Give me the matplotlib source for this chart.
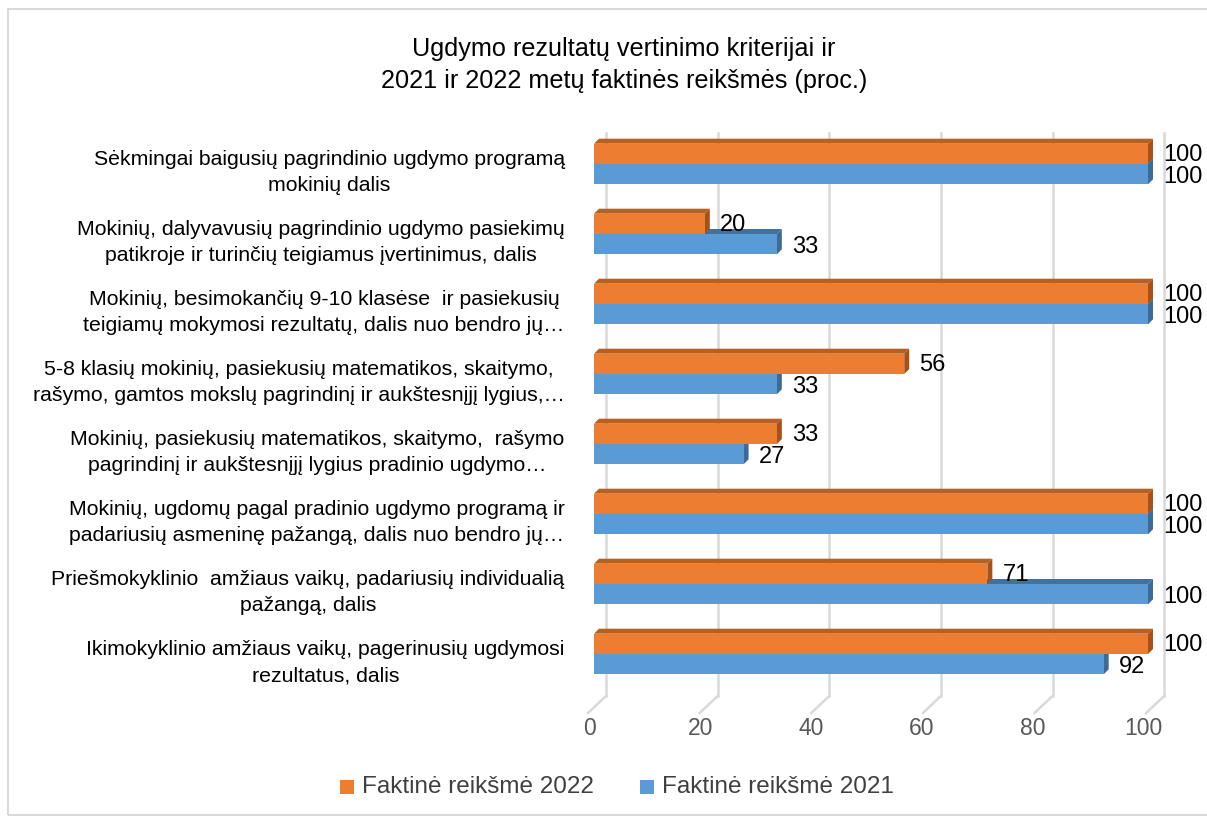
import numpy as np
import matplotlib.pyplot as plt
from matplotlib.patches import Polygon, Rectangle

categories = [
    "Sėkmingai baigusių pagrindinio ugdymo programą\nmokinių dalis",
    "Mokinių, dalyvavusių pagrindinio ugdymo pasiekimų\npatikroje ir turinčių teigiamus įvertinimus, dalis",
    "Mokinių, besimokančių 9-10 klasėse  ir pasiekusių\nteigiamų mokymosi rezultatų, dalis nuo bendro jų…",
    "5-8 klasių mokinių, pasiekusių matematikos, skaitymo,\nrašymo, gamtos mokslų pagrindinį ir aukštesnįjį lygius,…",
    "Mokinių, pasiekusių matematikos, skaitymo,  rašymo\npagrindinį ir aukštesnįjį lygius pradinio ugdymo…",
    "Mokinių, ugdomų pagal pradinio ugdymo programą ir\npadariusių asmeninę pažangą, dalis nuo bendro jų…",
    "Priešmokyklinio  amžiaus vaikų, padariusių individualią\npažangą, dalis",
    "Ikimokyklinio amžiaus vaikų, pagerinusių ugdymosi\nrezultatus, dalis",
]
values_2022 = [100, 20, 100, 56, 33, 100, 71, 100]
values_2021 = [100, 33, 100, 33, 27, 100, 100, 92]
xticks = [0, 20, 40, 60, 80, 100]

orange = "#ED7D31"
orange_top = "#B8601F"
orange_side = "#A65119"
blue = "#5B9BD5"
blue_top = "#41719C"
blue_side = "#3E6A93"

W, H = 1207, 820
fig = plt.figure(figsize=(W / 100, H / 100), dpi=100)
plt.rcParams['font.family'] = ['Liberation Sans', 'DejaVu Sans']

# outer frame
fig.add_artist(Rectangle((8 / W, 1 - 816 / H), 1.2, (816 - 10) / H,
                         transform=fig.transFigure, fill=False,
                         edgecolor="#d9d9d9", lw=1.5))

ax = fig.add_axes([594 / W, 1 - 690 / H, 554 / W, 560 / H])
ax.set_xlim(0, 100)
ax.set_ylim(len(categories) - 0.5, -0.5)
ax.axis("off")

# depth of 3D effect in data units
ddx = 5 / 5.54
ddy = 5 / 70.0
bh = 0.29

# back wall gridlines + floor diagonals
gx0 = 12 / 5.54
for t in xticks:
    xb = t * 1.0075 + gx0
    ax.plot([xb, xb], [-0.45, 7.6], color="#d9d9d9", lw=1.8, clip_on=False, zorder=0)
    ax.plot([xb, xb - 18 / 5.54], [7.6, 7.6 + 17 / 70], color="#d9d9d9", lw=1.8,
            clip_on=False, zorder=0)
    ax.text(t - 0.8, 8.05, str(t), ha="center", va="center", fontsize=16.5,
            color="#595959")


def bar3d(y0, v, face, top, side):
    # y0: top edge of the front face (smaller value is higher)
    y1 = y0 + bh
    ax.add_patch(Polygon([(0, y0), (ddx, y0 - ddy), (v + ddx, y0 - ddy), (v, y0)],
                         closed=True, facecolor=top, edgecolor="none", clip_on=False))
    ax.add_patch(Polygon([(v, y0), (v + ddx, y0 - ddy), (v + ddx, y1 - ddy), (v, y1)],
                         closed=True, facecolor=side, edgecolor="none", clip_on=False))
    ax.add_patch(Rectangle((0, y0), v, bh, facecolor=face, edgecolor="none",
                           clip_on=False))


for i, (v22, v21) in enumerate(zip(values_2022, values_2021)):
    bar3d(i, v21, blue, blue_top, blue_side)
    bar3d(i - bh, v22, orange, orange_top, orange_side)
    ax.text(v22 + 2.7, i - bh / 2, str(v22), ha="left", va="center", fontsize=17)
    ax.text(v21 + 2.7, i + bh / 2 + 0.03, str(v21), ha="left", va="center", fontsize=17)
    ax.text(-5.3, i + 0.11, categories[i], ha="right", va="center", fontsize=15.3,
            multialignment="center", linespacing=1.5)

fig.text(624 / W, 1 - 65 / H,
         "Ugdymo rezultatų vertinimo kriterijai ir\n2021 ir 2022 metų faktinės reikšmės (proc.)",
         ha="center", va="center", fontsize=18.2, linespacing=1.4)

# legend
lx = [(340, orange, "Faktinė reikšmė 2022"), (640, blue, "Faktinė reikšmė 2021")]
for px, col, lab in lx:
    fig.add_artist(Rectangle((px / W, 1 - 795 / H), 14 / W, 14 / H,
                             transform=fig.transFigure, facecolor=col, edgecolor="none"))
    fig.text((px + 22) / W, 1 - 787 / H, lab, ha="left", va="center", fontsize=17.5,
             color="#404040")

fig.savefig("out.png", dpi=100)
